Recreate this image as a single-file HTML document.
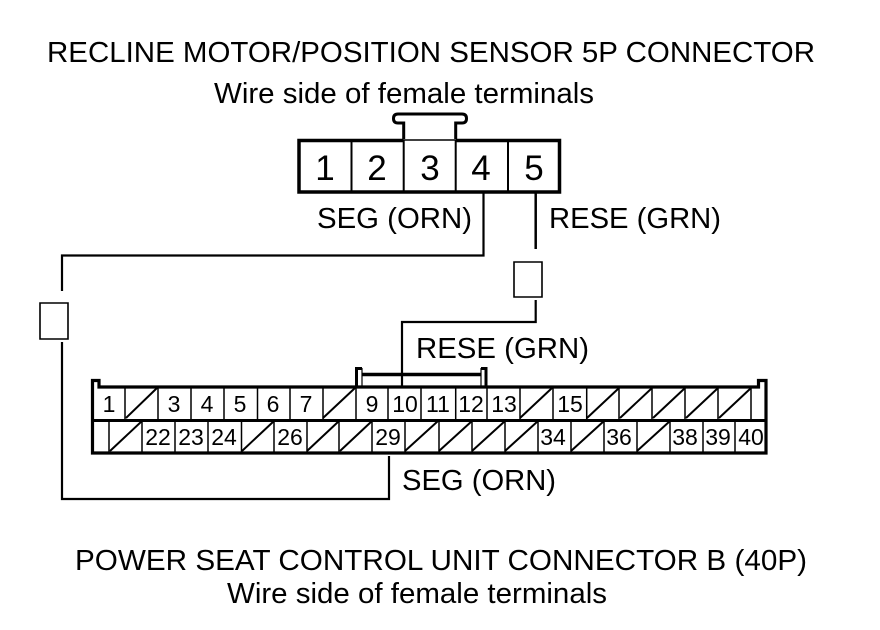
<!DOCTYPE html>
<html><head><meta charset="utf-8"><style>
html,body{margin:0;padding:0;background:#fff}
svg{display:block}
text{font-family:"Liberation Sans",sans-serif;fill:#000}
.t{font-size:28.5px}
.d{font-size:35px;text-anchor:middle}
.n{font-size:23px;text-anchor:middle}
</style></head><body>
<svg width="880" height="630" viewBox="0 0 880 630" xmlns="http://www.w3.org/2000/svg">
<rect width="880" height="630" fill="#fff"/>
<text class="t" x="47" y="62" textLength="768" lengthAdjust="spacingAndGlyphs">RECLINE MOTOR/POSITION SENSOR 5P CONNECTOR</text>
<text class="t" x="214" y="103" textLength="380" lengthAdjust="spacingAndGlyphs">Wire side of female terminals</text>
<text class="t" x="317" y="228" textLength="155" lengthAdjust="spacingAndGlyphs">SEG (ORN)</text>
<text class="t" x="549" y="228" textLength="172" lengthAdjust="spacingAndGlyphs">RESE (GRN)</text>
<text class="t" x="416" y="358" textLength="173" lengthAdjust="spacingAndGlyphs">RESE (GRN)</text>
<text class="t" x="402" y="490" textLength="154" lengthAdjust="spacingAndGlyphs">SEG (ORN)</text>
<text class="t" x="75" y="570" textLength="732" lengthAdjust="spacingAndGlyphs">POWER SEAT CONTROL UNIT CONNECTOR B (40P)</text>
<text class="t" x="227" y="603" textLength="380" lengthAdjust="spacingAndGlyphs">Wire side of female terminals</text>

<g fill="none" stroke="#000">
<path d="M403.7 140.5H299V192H559.5V140.5H455.7" stroke-width="3.5"/>
<path d="M403.7 140H455.7" stroke-width="1.4"/>
<path d="M351.5 140V192M455.7 140V192M403.7 140V192M508 140V192" stroke-width="2"/>
<path d="M403.7 139V123H398Q393.5 123 393.5 118.5Q393.5 114 398 114H462Q466.5 114 466.5 118.5Q466.5 123 462 123H455.7V139" stroke-width="3"/>
<path d="M483.5 193V255.5H62V291" stroke-width="2.2"/>
<path d="M535.7 193V249" stroke-width="2.5"/>
<path d="M535.7 300V322H402V386" stroke-width="2.2"/>
<path d="M62 342V499H389V456" stroke-width="2.2"/>
<path d="M40 339V303H68V339Z" stroke-width="1.6"/>
<path d="M514 297V262H542V297Z" stroke-width="1.6"/>

<path d="M92.5 453V380.5H99V387H758.5V380.5H766V453Z" stroke-width="3.2"/>
<path d="M92 420.5H766" stroke-width="3"/>
<path d="M125 387V420M158 387V420M191 387V420M224 387V420M257.5 387V420M290 387V420M323 387V420M356 387V420M388 387V420M421 387V420M455.7 387V420M487 387V420M520 387V420M553 387V420M586.7 387V420M619 387V420M652 387V420M685 387V420M718 387V420M751 387V420" stroke-width="1.5"/>
<path d="M109 420V453M142 420V453M175 420V453M208 420V453M241.5 420V453M274 420V453M307 420V453M339 420V453M372 420V453M405 420V453M439 420V453M472 420V453M505 420V453M538 420V453M571 420V453M604 420V453M637 420V453M670 420V453M703 420V453M735 420V453" stroke-width="1.5"/>
<path d="M126 418L157 388M323 418L355 388M520 418L552 388M587 418L619 388M620 418L652 388M653 418L685 388M686 418L718 388M719 418L751 388M110 451L142 421M242 451L274 421M307 451L339 421M340 451L372 421M405 451L438 421M439 451L472 421M472 451L505 421M505 451L538 421M571 451L604 421M637 451L670 421" stroke-width="2"/>
<path d="M356.5 386V368.5H362" stroke-width="3"/>
<path d="M362 368V386" stroke-width="1.2"/>
<path d="M481 368.5H486V386" stroke-width="3"/>
<path d="M481 368V386" stroke-width="1.2"/>
<path d="M362 374.5H481" stroke-width="3.4"/>
</g>

<text class="d" x="325" y="180">1</text>
<text class="d" x="377" y="180">2</text>
<text class="d" x="430" y="180">3</text>
<text class="d" x="481" y="180">4</text>
<text class="d" x="534" y="180">5</text>

<text class="n" x="109" y="412">1</text>
<text class="n" x="174" y="412">3</text>
<text class="n" x="207" y="412">4</text>
<text class="n" x="240" y="412">5</text>
<text class="n" x="273" y="412">6</text>
<text class="n" x="306" y="412">7</text>
<text class="n" x="372" y="412">9</text>
<text class="n" x="405" y="412">10</text>
<text class="n" x="438" y="412">11</text>
<text class="n" x="471" y="412">12</text>
<text class="n" x="504" y="412">13</text>
<text class="n" x="570" y="412">15</text>

<text class="n" x="158" y="445">22</text>
<text class="n" x="191" y="445">23</text>
<text class="n" x="224" y="445">24</text>
<text class="n" x="290" y="445">26</text>
<text class="n" x="388" y="445">29</text>
<text class="n" x="553" y="445">34</text>
<text class="n" x="619" y="445">36</text>
<text class="n" x="685" y="445">38</text>
<text class="n" x="718" y="445">39</text>
<text class="n" x="751" y="445">40</text>
</svg>
</body></html>
